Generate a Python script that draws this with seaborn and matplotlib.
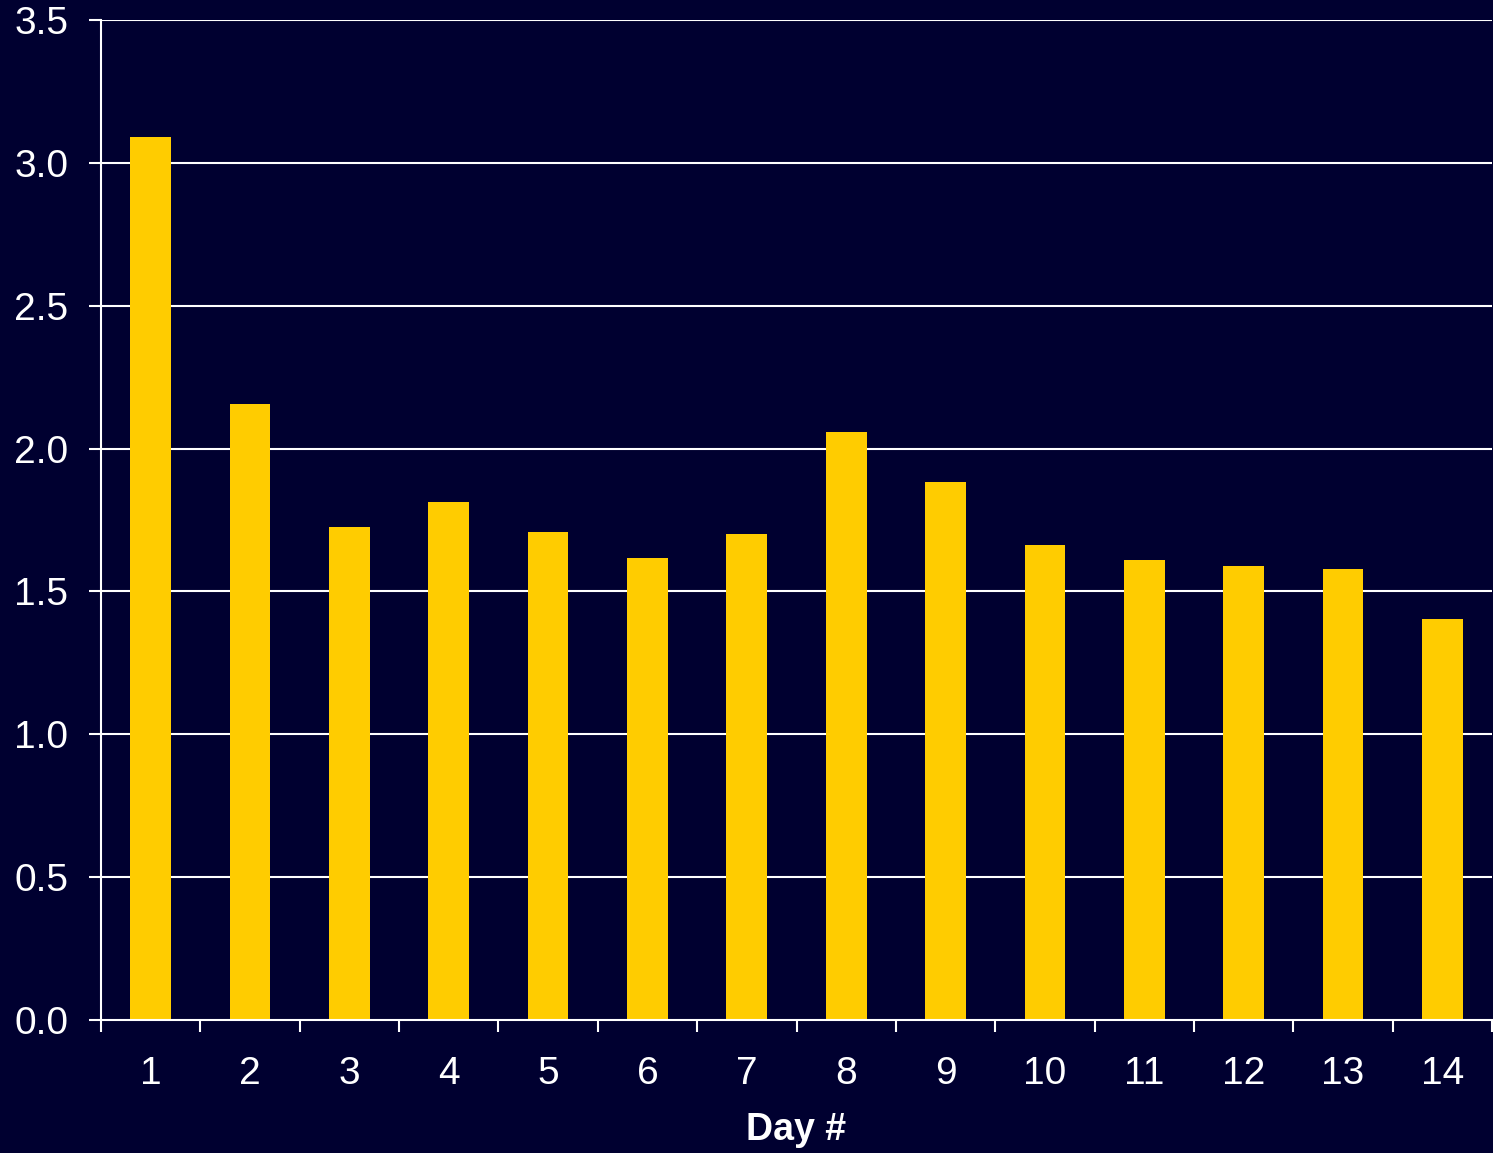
import matplotlib
matplotlib.use("Agg")
import matplotlib.pyplot as plt
import seaborn as sns
import pandas as pd
import numpy as np
from matplotlib.ticker import FixedLocator

days = ["1", "2", "3", "4", "5", "6", "7", "8", "9", "10", "11", "12", "13", "14"]
values = [3.09, 2.156, 1.726, 1.813, 1.708, 1.617, 1.701, 2.058, 1.883, 1.663, 1.61, 1.589, 1.579, 1.404]
y_ticks = [0.0, 0.5, 1.0, 1.5, 2.0, 2.5, 3.0, 3.5]

bg = "#000030"
bar_color = "#FFCC00"

sns.set_theme(style="dark")
plt.rcParams['font.family'] = ['Liberation Sans', 'DejaVu Sans']

df = pd.DataFrame({"Day": days, "Value": values})

fig = plt.figure(figsize=(14.93, 11.53), dpi=100, facecolor=bg)
ax = fig.add_axes([101/1493, 1 - 1020/1153, (1492-101)/1493, 1000/1153])
ax.set_facecolor(bg)

sns.barplot(data=df, x="Day", y="Value", order=days, color=bar_color,
            width=0.41, saturation=1, linewidth=0, edgecolor="none", ax=ax, zorder=3)

ax.set_ylim(0, 3.5)
ax.set_xlim(-0.5, len(days) - 0.5)
ax.set_yticks(y_ticks)
ax.set_yticklabels([f"{t:.1f}" for t in y_ticks])
ax.grid(False)
for t in y_ticks[1:]:
    ax.axhline(t, color="white", linewidth=1.5, zorder=1)

ax.xaxis.set_minor_locator(FixedLocator(np.arange(-0.5, len(days), 1.0)))
ax.tick_params(axis="x", which="major", bottom=True, length=0, pad=26, labelsize=28, colors="white")
ax.tick_params(axis="x", which="minor", bottom=True, length=8.5, width=1.5, color="white", direction="out")
ax.tick_params(axis="y", which="major", left=True, length=8.5, width=1.5, color="white", direction="out",
               pad=15, labelsize=28, labelcolor="white")

for s in ["top", "right"]:
    ax.spines[s].set_visible(False)
for s in ["left", "bottom"]:
    ax.spines[s].set_visible(True)
    ax.spines[s].set_color("white")
    ax.spines[s].set_linewidth(1.5)
    ax.spines[s].set_zorder(4)

ax.set_ylabel("")
ax.set_xlabel("Day #", fontsize=27, fontweight="bold", color="white", labelpad=14)

fig.savefig("out.png", dpi=100, facecolor=bg)
